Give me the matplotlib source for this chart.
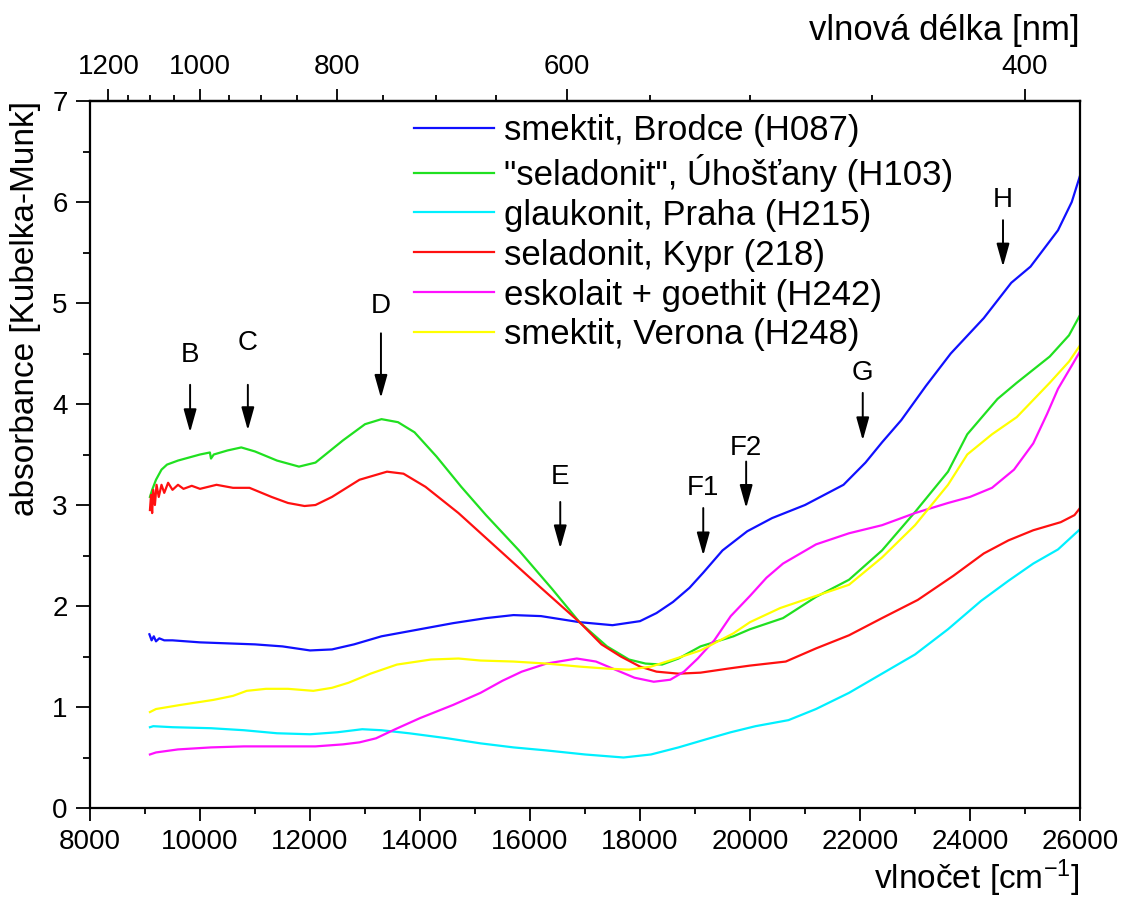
import matplotlib
matplotlib.use("Agg")
import matplotlib.pyplot as plt
from matplotlib.ticker import MultipleLocator, FixedLocator

plt.rcParams.update({
    "font.family": ["Liberation Sans", "DejaVu Sans"],
    "mathtext.default": "regular",
    "axes.linewidth": 1.6,
    "xtick.direction": "out",
    "ytick.direction": "out",
    "xtick.major.size": 9,
    "xtick.minor.size": 4.5,
    "ytick.major.size": 10,
    "ytick.minor.size": 5,
    "xtick.major.width": 1.3,
    "xtick.minor.width": 1.3,
    "ytick.major.width": 1.3,
    "ytick.minor.width": 1.3,
    "xtick.labelsize": 20,
    "ytick.labelsize": 20,
    "xtick.major.pad": 6,
    "ytick.major.pad": 6,
})

# ---- data (wavenumber in cm-1, Kubelka-Munk absorbance) ----
w_blue = [9080, 9120, 9160, 9200, 9260, 9350, 9500, 10000, 10500, 11000, 11500, 12000,
          12400, 12800, 13300, 14000, 14600, 15200, 15700, 16200, 16900, 17500, 18000,
          18300, 18600, 18900, 19150, 19500, 19950, 20400, 21000, 21700, 22100, 22400,
          22750, 23200, 23650, 24250, 24750, 25100, 25600, 25850, 26000]
a_blue = [1.72, 1.66, 1.70, 1.65, 1.68, 1.66, 1.66, 1.64, 1.63, 1.62, 1.60, 1.56,
          1.57, 1.62, 1.70, 1.77, 1.83, 1.88, 1.91, 1.90, 1.84, 1.81, 1.85,
          1.93, 2.04, 2.18, 2.33, 2.55, 2.74, 2.87, 3.00, 3.20, 3.42, 3.62,
          3.84, 4.18, 4.50, 4.85, 5.20, 5.36, 5.72, 6.00, 6.26]

w_green = [9090, 9130, 9200, 9300, 9400, 9600, 9800, 10000, 10180, 10200, 10250, 10500,
           10750, 11000, 11400, 11800, 12100, 12600, 13000, 13300, 13600, 13900, 14300,
           14750, 15200, 15800, 16400, 16900, 17400, 17800, 18100, 18400, 18700, 19100,
           19700, 20000, 20600, 21200, 21800, 22400, 23000, 23600, 23950, 24500, 24850,
           25450, 25800, 26000]
a_green = [3.08, 3.15, 3.25, 3.35, 3.40, 3.44, 3.47, 3.50, 3.52, 3.46, 3.50, 3.54,
           3.57, 3.53, 3.44, 3.38, 3.42, 3.64, 3.80, 3.85, 3.82, 3.72, 3.48,
           3.18, 2.90, 2.55, 2.17, 1.84, 1.60, 1.47, 1.43, 1.42, 1.48, 1.60,
           1.70, 1.77, 1.88, 2.09, 2.26, 2.55, 2.93, 3.33, 3.70, 4.05, 4.21,
           4.47, 4.68, 4.88]

w_cyan = [9090, 9150, 9500, 10200, 10800, 11400, 12000, 12500, 12950, 13300, 13800,
          14500, 15100, 15700, 16300, 17000, 17700, 18200, 18700, 19200, 19650, 20100,
          20700, 21200, 21800, 22400, 23000, 23600, 24200, 24700, 25150, 25600, 26000]
a_cyan = [0.80, 0.81, 0.80, 0.79, 0.77, 0.74, 0.73, 0.75, 0.78, 0.77, 0.74,
          0.69, 0.64, 0.60, 0.57, 0.53, 0.50, 0.53, 0.60, 0.68, 0.75, 0.81,
          0.87, 0.98, 1.14, 1.33, 1.52, 1.77, 2.05, 2.25, 2.42, 2.56, 2.76]

w_red = [9090, 9110, 9130, 9150, 9180, 9210, 9250, 9300, 9350, 9420, 9500, 9600, 9700,
         9850, 10000, 10300, 10600, 10900, 11300, 11600, 11900, 12100, 12400, 12900,
         13400, 13700, 14100, 14700, 15450, 16200, 16900, 17300, 17650, 18000, 18300,
         18700, 19100, 19600, 20000, 20650, 21200, 21800, 22400, 23050, 23700, 24250,
         24700, 25150, 25650, 25900, 26000]
a_red = [2.95, 3.10, 2.92, 3.15, 3.00, 3.20, 3.08, 3.20, 3.12, 3.22, 3.15, 3.20, 3.16,
         3.19, 3.16, 3.20, 3.17, 3.17, 3.08, 3.02, 2.99, 3.00, 3.08, 3.25,
         3.33, 3.31, 3.18, 2.92, 2.55, 2.18, 1.84, 1.62, 1.50, 1.40, 1.35,
         1.33, 1.34, 1.38, 1.41, 1.45, 1.58, 1.71, 1.88, 2.06, 2.30, 2.52,
         2.65, 2.75, 2.83, 2.90, 2.97]

w_magenta = [9090, 9200, 9600, 10200, 10800, 11500, 12100, 12600, 12900, 13200, 13550,
             14000, 14600, 15100, 15500, 15850, 16300, 16850, 17200, 17550, 17900, 18250,
             18550, 18800, 19050, 19350, 19650, 20000, 20300, 20600, 21200, 21800, 22400,
             23000, 23600, 24000, 24400, 24800, 25150, 25400, 25600, 25850, 26000]
a_magenta = [0.53, 0.55, 0.58, 0.60, 0.61, 0.61, 0.61, 0.63, 0.65, 0.69, 0.78,
             0.89, 1.02, 1.14, 1.26, 1.35, 1.43, 1.48, 1.45, 1.37, 1.29, 1.25,
             1.27, 1.35, 1.48, 1.66, 1.90, 2.10, 2.28, 2.42, 2.61, 2.72, 2.80,
             2.92, 3.02, 3.08, 3.17, 3.35, 3.61, 3.90, 4.15, 4.38, 4.52]

w_yellow = [9090, 9200, 9640, 10240, 10600, 10850, 11200, 11600, 12060, 12400, 12700,
            13100, 13580, 14200, 14700, 15100, 15700, 16300, 16900, 17400, 17800, 18200,
            18600, 19100, 19700, 20000, 20550, 21200, 21800, 22400, 23000, 23600, 23950,
            24400, 24850, 25450, 25800, 26000]
a_yellow = [0.95, 0.98, 1.02, 1.07, 1.11, 1.16, 1.18, 1.18, 1.16, 1.19, 1.24,
            1.33, 1.42, 1.47, 1.48, 1.46, 1.45, 1.43, 1.40, 1.38, 1.37, 1.40,
            1.47, 1.56, 1.73, 1.84, 1.98, 2.10, 2.21, 2.48, 2.80, 3.20, 3.50,
            3.70, 3.87, 4.21, 4.42, 4.58]

series = [
    (w_blue, a_blue, "#1010ff", "smektit, Brodce (H087)"),
    (w_green, a_green, "#20e020", "\"seladonit\", Úhošťany (H103)"),
    (w_cyan, a_cyan, "#00f0ff", "glaukonit, Praha (H215)"),
    (w_red, a_red, "#ff1010", "seladonit, Kypr (218)"),
    (w_magenta, a_magenta, "#ff10ff", "eskolait + goethit (H242)"),
    (w_yellow, a_yellow, "#ffff00", "smektit, Verona (H248)"),
]

# band markers: label, wavenumber, label height, arrow tail, arrow tip
band_names = ["B", "C", "D", "E", "F1", "F2", "G", "H"]
band_pos = [9820, 10870, 13290, 16550, 19150, 19930, 22050, 24600]
band_text_y = [4.49, 4.60, 4.97, 3.28, 3.17, 3.56, 4.31, 6.02]
band_tail_y = [4.19, 4.19, 4.70, 3.03, 2.97, 3.43, 4.11, 5.82]
band_tip_y = [3.72, 3.74, 4.06, 2.57, 2.50, 2.97, 3.64, 5.36]

wl_major = [1200, 1000, 800, 600, 400]
wl_minor = [1150, 1100, 1050, 950, 900, 850, 750, 700, 650, 550, 500, 450]

fig = plt.figure(figsize=(11.23, 9.02), dpi=100)
ax = fig.add_axes([90 / 1123, 1 - 808 / 902, 990 / 1123, 707 / 902])

for w, a, c, lab in series:
    ax.plot(w, a, color=c, lw=1.6, label=lab)

for name, x, ty, y0, y1 in zip(band_names, band_pos, band_text_y, band_tail_y, band_tip_y):
    ax.annotate("", xy=(x, y1), xytext=(x, y0),
                arrowprops=dict(arrowstyle="-|>,head_length=1.0,head_width=0.28",
                                color="black", lw=1.4, mutation_scale=14,
                                shrinkA=0, shrinkB=0))
    ax.text(x, ty, name, ha="center", va="center", fontsize=20)

ax.set_xlim(8000, 26000)
ax.set_ylim(0, 7)
ax.xaxis.set_major_locator(MultipleLocator(2000))
ax.xaxis.set_minor_locator(MultipleLocator(1000))
ax.yaxis.set_major_locator(MultipleLocator(1))
ax.yaxis.set_minor_locator(MultipleLocator(0.5))
ax.tick_params(which="both", top=False, right=False)

ax.set_xlabel("vlnočet [cm$^{-1}$]", fontsize=24, loc="right", labelpad=2)
ax.set_ylabel("absorbance [Kubelka-Munk]", fontsize=24, loc="top", labelpad=8)

inv = lambda v: 1e7 / v
sec = ax.secondary_xaxis("top", functions=(inv, inv))
sec.xaxis.set_major_locator(FixedLocator(wl_major))
sec.xaxis.set_minor_locator(FixedLocator(wl_minor))
sec.tick_params(which="both", direction="out", labelsize=20)
sec.set_xlabel("vlnová délka [nm]", fontsize=25, loc="right", labelpad=10)

leg = ax.legend(loc="upper left", bbox_to_anchor=(0.327, 0.982), frameon=False,
                fontsize=25, handlelength=2.3, handletextpad=0.3,
                labelspacing=0.2, borderpad=0, borderaxespad=0)

fig.savefig("out.png", dpi=100)
